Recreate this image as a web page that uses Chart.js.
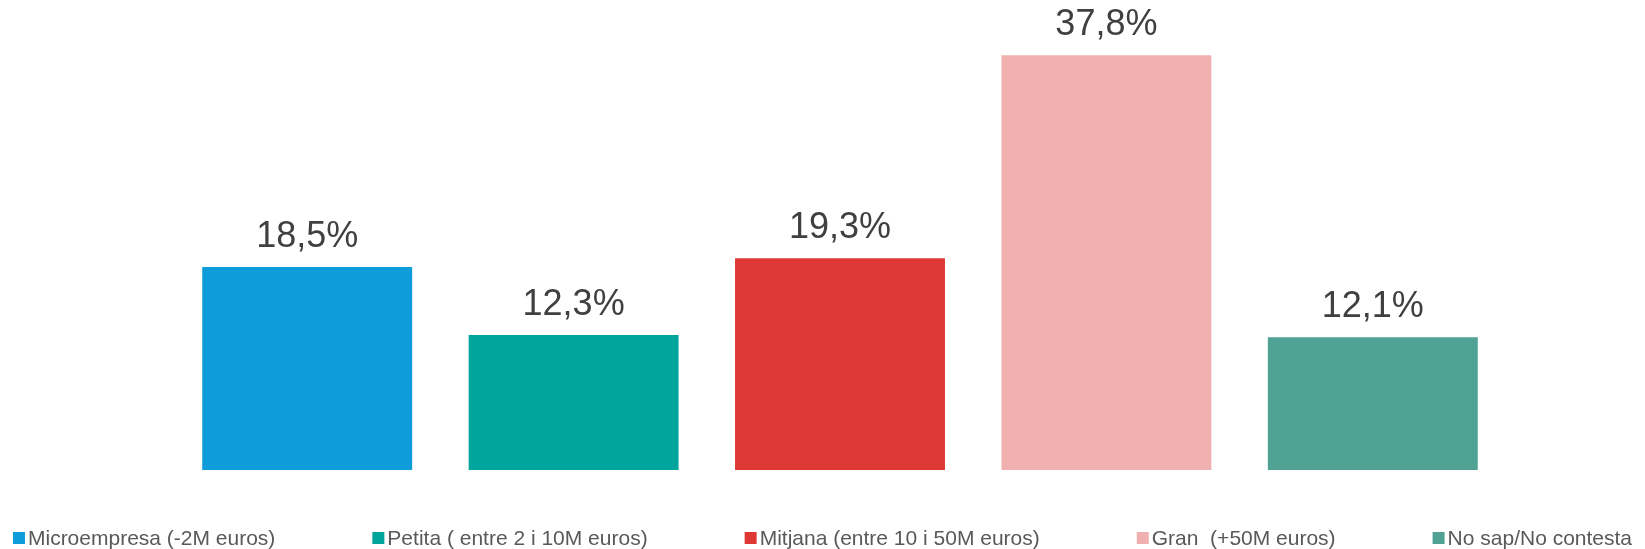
<!DOCTYPE html>
<html>
<head>
<meta charset="utf-8">
<script src="https://cdn.jsdelivr.net/npm/chart.js@4.4.1/dist/chart.umd.min.js"></script>
<style>
  body { margin: 0; background: #fff; }
</style>
</head>
<body>
<canvas id="barChart" width="1645" height="549"></canvas>
<script>
const categories = [
  'Microempresa (-2M euros)',
  'Petita ( entre 2 i 10M euros)',
  'Mitjana (entre 10 i 50M euros)',
  'Gran  (+50M euros)',
  'No sap/No contesta'
];
const values = [18.5, 12.3, 19.3, 37.8, 12.1];
const barColors = ['#0F9CDA', '#00A59B', '#DD3833', '#F0B0AF', '#50A295'];

const FONT = '"Liberation Sans", Arial, sans-serif';

// value labels above each bar ("18,5%")
const valueLabels = {
  id: 'valueLabels',
  afterDatasetsDraw(chart) {
    const ctx = chart.ctx;
    const meta = chart.getDatasetMeta(0);
    ctx.save();
    ctx.font = '36px ' + FONT;
    ctx.fillStyle = '#404040';
    ctx.textAlign = 'center';
    ctx.textBaseline = 'alphabetic';
    meta.data.forEach((bar, i) => {
      const txt = values[i].toFixed(1).replace('.', ',') + '%';
      ctx.fillText(txt, bar.x, bar.y - 20);
    });
    ctx.restore();
  }
};

// legend in one row along the bottom edge, wide spacing like the original
const bottomLegend = {
  id: 'bottomLegend',
  afterDraw(chart) {
    const ctx = chart.ctx;
    const box = 12, boxGap = 3, itemGap = 97;
    const y = 538;
    ctx.save();
    ctx.font = '21px ' + FONT;
    ctx.textBaseline = 'middle';
    ctx.textAlign = 'left';
    const widths = categories.map(c => box + boxGap + ctx.measureText(c).width);
    const total = widths.reduce((a, b) => a + b, 0) + itemGap * (categories.length - 1);
    let x = (chart.width - total) / 2;
    categories.forEach((c, i) => {
      ctx.fillStyle = barColors[i];
      ctx.fillRect(x, y - box / 2, box, box);
      ctx.fillStyle = '#595959';
      ctx.fillText(c, x + box + boxGap, y + 1);
      x += widths[i] + itemGap;
    });
    ctx.restore();
  }
};

const ctx = document.getElementById('barChart').getContext('2d');
new Chart(ctx, {
  type: 'bar',
  data: {
    labels: categories,
    datasets: [{
      data: values,
      backgroundColor: barColors,
      borderWidth: 0,
      categoryPercentage: 1,
      barPercentage: 0.788
    }]
  },
  options: {
    responsive: false,
    animation: false,
    layout: {
      padding: { left: 174, right: 139, top: 31, bottom: 79 }
    },
    scales: {
      x: { display: false, grid: { display: false } },
      y: { display: false, min: 0, max: 40, grid: { display: false } }
    },
    plugins: {
      legend: { display: false },
      tooltip: { enabled: false }
    }
  },
  plugins: [valueLabels, bottomLegend]
});
</script>
</body>
</html>
